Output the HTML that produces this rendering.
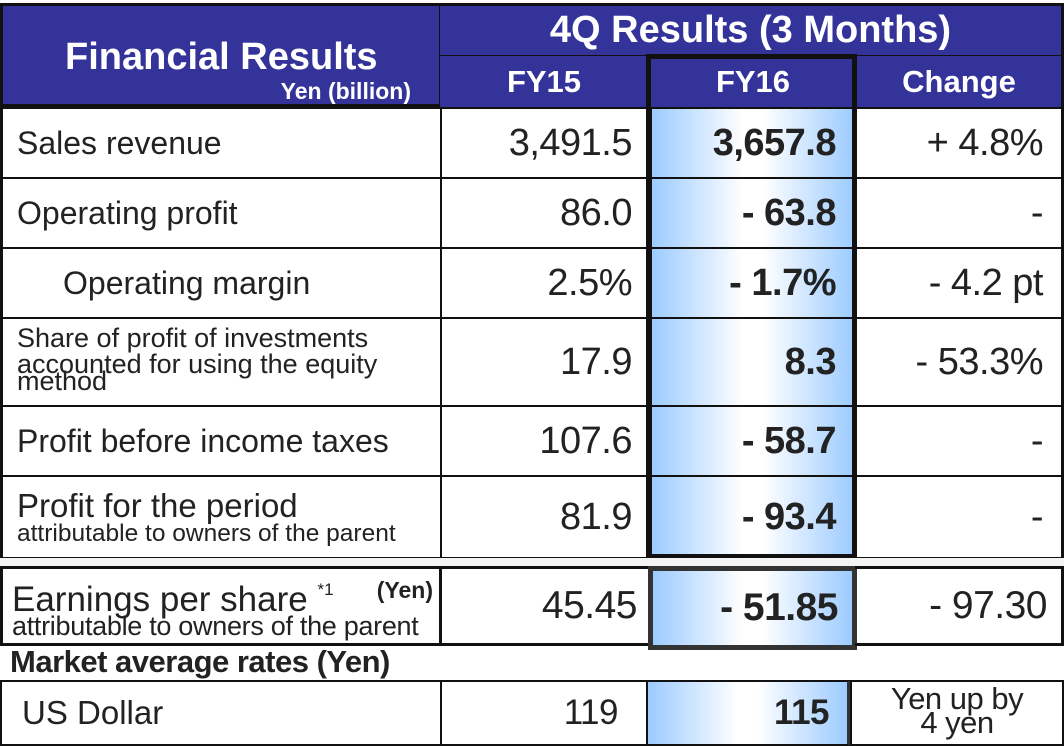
<!DOCTYPE html>
<html><head><meta charset="utf-8">
<style>
body{margin:0;width:1064px;height:742px;background:#fff;position:relative;overflow:hidden;font-family:"Liberation Sans",sans-serif;color:#222}
.a{position:absolute;box-sizing:border-box}
.hb{background:#333399;color:#fff;font-weight:bold;display:flex;align-items:center;justify-content:center}
.c{display:flex;align-items:center;font-size:38px;letter-spacing:-0.5px;border:2px solid #111}
.r{justify-content:flex-end;padding-right:18px}
.l{padding-left:14px;font-size:32px;letter-spacing:0}
.g{background:linear-gradient(to right,#9ccbff 0%,#ffffff 45%,#ffffff 55%,#9ccbff 100%);font-weight:bold}
.t{display:block;line-height:1}
</style></head><body>
<!-- header -->
<div class="a hb" style="left:0;top:3px;width:441px;height:104px;border:3px solid #111;border-right:2px solid #111;display:block">
  <div style="position:absolute;left:62px;top:30px;font-size:38px">Financial Results</div>
  <div style="position:absolute;right:28px;top:72px;font-size:23px">Yen (billion)</div>
</div>
<div class="a hb" style="left:440px;top:3px;width:624px;height:54px;border:3px solid #111;border-left:none;border-bottom:2px solid #111;font-size:38px">4Q Results (3 Months)</div>
<div class="a hb" style="left:440px;top:56px;width:210px;height:51px;font-size:31px;border-right:2px solid #111">FY15</div>
<div class="a hb" style="left:650px;top:56px;width:206px;height:51px;font-size:31px">FY16</div>
<div class="a hb" style="left:855px;top:56px;width:209px;height:51px;font-size:31px;border-left:2px solid #111;border-right:3px solid #111">Change</div>

<!-- rows -->
<div class="a c l" style="left:0;top:107px;width:442px;height:72px;border-left-width:3px">Sales revenue</div>
<div class="a c r" style="left:440px;top:107px;width:212px;height:72px">3,491.5</div>
<div class="a c r g" style="left:650px;top:107px;width:206px;height:72px">3,657.8</div>
<div class="a c r" style="left:854px;top:107px;width:210px;height:72px;border-right-width:3px">+ 4.8%</div>

<div class="a c l" style="left:0;top:177px;width:442px;height:72px;border-left-width:3px">Operating profit</div>
<div class="a c r" style="left:440px;top:177px;width:212px;height:72px">86.0</div>
<div class="a c r g" style="left:650px;top:177px;width:206px;height:72px">- 63.8</div>
<div class="a c r" style="left:854px;top:177px;width:210px;height:72px;border-right-width:3px">-</div>

<div class="a c l" style="left:0;top:247px;width:442px;height:72px;border-left-width:3px;padding-left:60px">Operating margin</div>
<div class="a c r" style="left:440px;top:247px;width:212px;height:72px">2.5%</div>
<div class="a c r g" style="left:650px;top:247px;width:206px;height:72px">- 1.7%</div>
<div class="a c r" style="left:854px;top:247px;width:210px;height:72px;border-right-width:3px">- 4.2 pt</div>

<div class="a c l" style="left:0;top:317px;width:442px;height:90px;border-left-width:3px;font-size:27px;display:block;padding-top:6px">
  <span class="t">Share of profit of investments</span><span class="t" style="margin-top:-1px">accounted for using the equity</span><span class="t" style="margin-top:-10px">method</span></div>
<div class="a c r" style="left:440px;top:317px;width:212px;height:90px">17.9</div>
<div class="a c r g" style="left:650px;top:317px;width:206px;height:90px">8.3</div>
<div class="a c r" style="left:854px;top:317px;width:210px;height:90px;border-right-width:3px">- 53.3%</div>

<div class="a c l" style="left:0;top:405px;width:442px;height:72px;border-left-width:3px">Profit before income taxes</div>
<div class="a c r" style="left:440px;top:405px;width:212px;height:72px">107.6</div>
<div class="a c r g" style="left:650px;top:405px;width:206px;height:72px">- 58.7</div>
<div class="a c r" style="left:854px;top:405px;width:210px;height:72px;border-right-width:3px">-</div>

<div class="a c l" style="left:0;top:475px;width:442px;height:84px;border-left-width:3px;display:block;padding-top:12px">
  <span class="t" style="font-size:33px">Profit for the period</span><span class="t" style="font-size:24.5px;margin-top:0px">attributable to owners of the parent</span></div>
<div class="a c r" style="left:440px;top:475px;width:212px;height:84px">81.9</div>
<div class="a c r g" style="left:650px;top:475px;width:206px;height:84px">- 93.4</div>
<div class="a c r" style="left:854px;top:475px;width:210px;height:84px;border-right-width:3px">-</div>
<!-- FY16 thick box -->
<div class="a" style="left:646px;top:54px;width:211px;height:505px;border:5px solid #111"></div>

<!-- EPS -->
<div class="a" style="left:0;top:558px;width:1064px;height:8px;background:#f4f4f4"></div>
<div class="a c l" style="left:0;top:566px;width:442px;height:80px;border-width:3px;display:block;padding-left:9px;padding-top:12px">
  <span class="t" style="font-size:35px">Earnings per share <sup style="font-size:17px;vertical-align:16px">*1</sup></span><span class="t" style="font-size:27px;margin-top:-4px;letter-spacing:-0.3px">attributable to owners of the parent</span>
  <span style="position:absolute;right:6px;top:8px;font-size:23px;font-weight:bold">(Yen)</span></div>
<div class="a c r" style="left:440px;top:566px;width:212px;height:80px;border-width:3px;border-left:none;font-size:39px;padding-right:12px">45.45</div>
<div class="a c r g" style="left:648px;top:566px;width:209px;height:84px;border:5px solid #333;font-size:39px;padding-right:14px">- 51.85</div>
<div class="a c r" style="left:855px;top:566px;width:209px;height:80px;border-width:3px;border-left:none;font-size:39px;padding-right:14px">- 97.30</div>

<div class="a" style="left:10px;top:644px;font-size:31px;font-weight:bold;color:#222;letter-spacing:-0.5px">Market average rates (Yen)</div>

<div class="a c l" style="left:0;top:680px;width:442px;height:66px;padding-left:20px;font-size:33px">US Dollar</div>
<div class="a c r" style="left:440px;top:680px;width:208px;height:66px;font-size:35px;padding-right:28px">119</div>
<div class="a c r g" style="left:646px;top:680px;width:206px;height:66px;font-size:35px;border-right:5px solid #333">115</div>
<div class="a c" style="left:850px;top:680px;width:214px;height:66px;display:block;text-align:center;font-size:31px;padding-top:1px">
  <span class="t">Yen up by</span><span class="t" style="margin-top:-7px">4 yen</span></div>
</body></html>
